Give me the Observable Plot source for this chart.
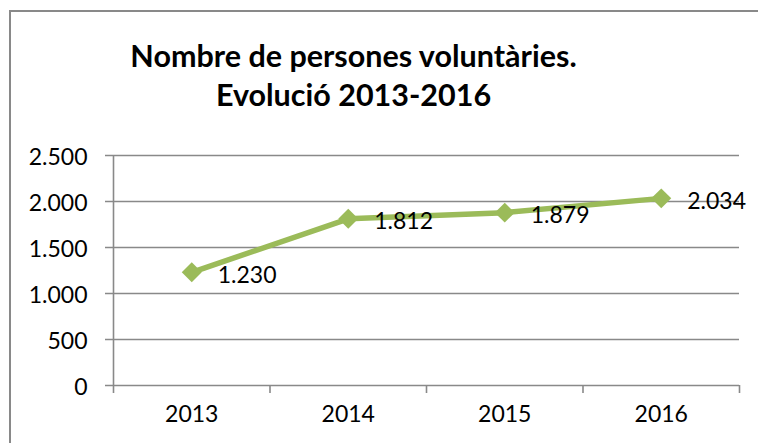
<!DOCTYPE html>
<html><head><meta charset="utf-8">
<script src="https://cdn.jsdelivr.net/npm/d3@7"></script>
<script src="https://cdn.jsdelivr.net/npm/@observablehq/plot@0.6"></script>
<style>
html,body{margin:0;padding:0;background:#fff;}
#wrap{position:relative;width:758px;height:443px;overflow:hidden;font-family:Lato,sans-serif;}
#frame{position:absolute;left:9px;top:10px;width:800px;height:480px;border:2px solid #898989;box-sizing:border-box;}
#title{position:absolute;left:0;top:36px;width:707px;text-align:center;font-weight:bold;font-size:30.5px;line-height:38.5px;color:#000;}
#chart{position:absolute;left:0;top:0;}
</style></head><body>
<div id="wrap"><div id="frame"></div><div id="title"></div><div id="chart"></div></div>
<script>
const titleLines = ["Nombre de persones voluntàries.", "Evolució 2013-2016"];
const years = [2013, 2014, 2015, 2016];
const volunteers = [1230, 1812, 1879, 2034];
const yTicks = [0, 500, 1000, 1500, 2000, 2500];

const fmt = d3.formatLocale({decimal: ",", thousands: ".", grouping: [3], currency: ["", ""]}).format(",");
const data = years.map((year, i) => ({year, value: volunteers[i]}));
const bounds = [years[0] - 0.5, ...years.map(y => y + 0.5)];
const gray = "#898989";
const green = "#9BBB59";

document.getElementById("title").innerHTML = titleLines.join("<br>");

const plot = Plot.plot({
  width: 758, height: 443,
  marginLeft: 113, marginRight: 19, marginTop: 155, marginBottom: 58,
  style: {background: "transparent", fontFamily: "Lato, sans-serif", fontSize: "23px", color: "#000", overflow: "visible"},
  x: {type: "linear", domain: [bounds[0], bounds[bounds.length - 1]], axis: null},
  y: {domain: [0, yTicks[yTicks.length - 1]], axis: null},
  marks: [
    Plot.ruleY(yTicks, {stroke: gray, strokeWidth: 1.6, insetLeft: -8}),
    Plot.ruleX([bounds[0]], {y1: yTicks[yTicks.length - 1], y2: 0, stroke: gray, strokeWidth: 1.6, insetBottom: -8}),
    Plot.ruleX(bounds.slice(1), {y1: 0, y2: 0, stroke: gray, strokeWidth: 1.6, insetBottom: -8}),
    Plot.text(yTicks, {y: d => d, text: d => fmt(d), frameAnchor: "left", textAnchor: "end", dx: -26, dy: 2.5, fill: "#000"}),
    Plot.text(years, {x: d => d, text: d => String(d), frameAnchor: "bottom", dy: 36, fill: "#000"}),
    Plot.line(data, {x: "year", y: "value", stroke: green, strokeWidth: 5.5}),
    Plot.dot(data, {x: "year", y: "value", symbol: "diamond2", r: 9, fill: green, stroke: "none"}),
    Plot.text(data, {x: "year", y: "value", text: d => fmt(d.value), textAnchor: "start", dx: 26, dy: 3, fill: "#000"})
  ]
});
document.getElementById("chart").appendChild(plot);
</script>
</body></html>
